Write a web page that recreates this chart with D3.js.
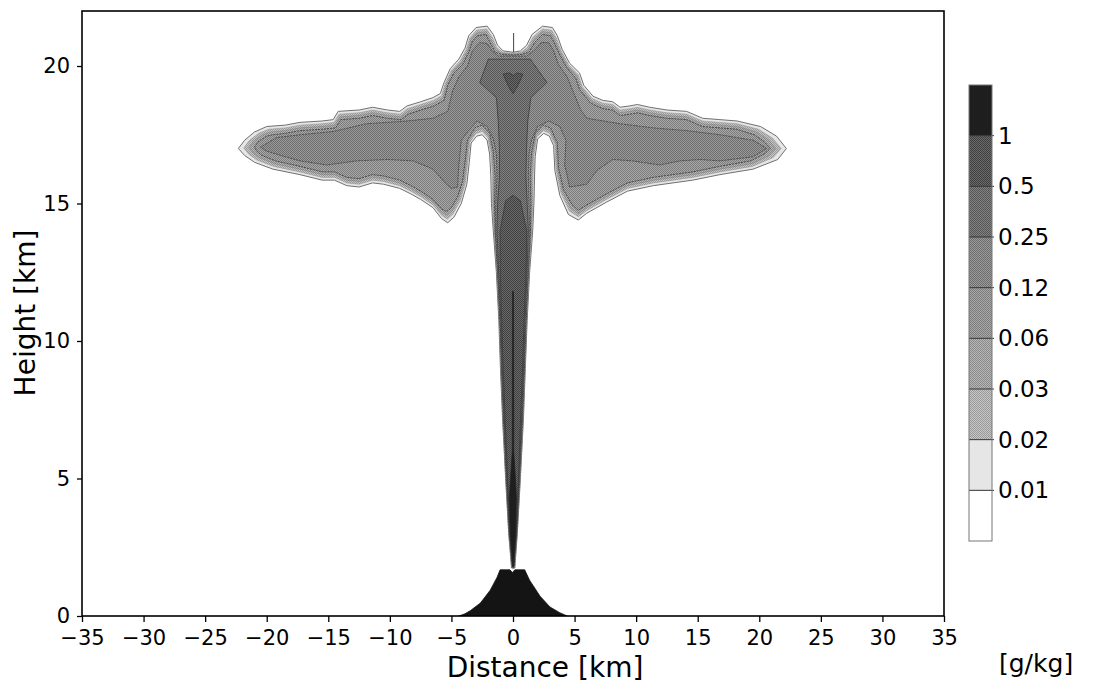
<!DOCTYPE html>
<html>
<head>
<meta charset="utf-8">
<script src="https://cdn.jsdelivr.net/npm/d3@7"></script>
<style>
  html, body { margin: 0; padding: 0; background: #fff; }
  svg { display: block; font-family: "DejaVu Sans", sans-serif; }
</style>
</head>
<body>
<svg id="chart" width="1102" height="685"></svg>
<script>
// Mixing ratio contour levels [g/kg]
const levels = [0.01, 0.02, 0.03, 0.06, 0.12, 0.25, 0.5, 1];
const levelLabels = ["0.01", "0.02", "0.03", "0.06", "0.12", "0.25", "0.5", "1"];
// Grey of each band: below 0.01, then above each level in turn
const bandFills = ["#ffffff", "#e6e6e6", "#b0b0b0", "#a0a0a0", "#929292", "#848484", "#6c6c6c", "#555555", "#1e1e1e"];

const xTicks = [-35, -30, -25, -20, -15, -10, -5, 0, 5, 10, 15, 20, 25, 30, 35];
const yTicks = [0, 5, 10, 15, 20];

// Outlines of the regions at or above each level, [distance km, height km]
const c001 = [[-0.12,1.75],[-0.35,3],[-0.6,5],[-0.85,7.2],[-1.02,9],[-1.15,10.75],[-1.35,12.5],[-1.6,14],[-1.75,15],[-1.8,16],[-1.9,16.8],[-2.1,17.3],[-2.5,17.5],[-2.95,17.45],[-3.4,17.2],[-3.55,16.5],[-3.75,15.7],[-4.2,15.0],[-4.8,14.5],[-5.3,14.3],[-5.8,14.45],[-6.5,14.85],[-7.5,15.15],[-8.3,15.35],[-9.2,15.55],[-10.5,15.7],[-11.4,15.75],[-12.5,15.6],[-13.5,15.65],[-14.5,15.85],[-15.5,15.85],[-17.3,16.05],[-19.5,16.25],[-21.0,16.5],[-21.8,16.75],[-22.3,17.0],[-21.8,17.3],[-21.0,17.6],[-20.0,17.8],[-18.5,17.85],[-17.3,17.95],[-15.5,18.0],[-14.6,18.05],[-14.2,18.35],[-12.5,18.4],[-11.4,18.5],[-10.2,18.4],[-9.2,18.35],[-8.6,18.55],[-7.5,18.7],[-6.5,18.85],[-5.9,19.0],[-5.6,19.4],[-5.1,19.9],[-4.4,20.25],[-3.9,20.65],[-3.6,21.1],[-3.0,21.4],[-2.1,21.45],[-1.6,21.15],[-1.25,20.75],[-0.8,20.55],[0,20.5],[0.6,20.55],[1.1,20.75],[1.55,21.15],[2.4,21.45],[3.2,21.4],[3.6,21.1],[4.0,20.6],[4.6,20.1],[5.4,19.75],[5.75,19.3],[6.5,18.9],[7.3,18.75],[8.1,18.7],[8.7,18.5],[9.5,18.55],[10.1,18.6],[11.1,18.5],[12.5,18.4],[14.1,18.35],[15.4,18.1],[16.8,18.05],[18.2,18.0],[20.1,17.8],[21.4,17.45],[22.2,17.0],[21.5,16.6],[19.5,16.25],[16.8,16.05],[14.6,15.85],[13.0,15.75],[11.4,15.65],[9.3,15.45],[7.6,15.05],[6.0,14.65],[5.3,14.4],[4.5,14.6],[3.8,15.3],[3.4,16.2],[3.3,17.1],[2.95,17.45],[2.5,17.55],[2.0,17.35],[1.8,16.7],[1.75,16.0],[1.7,15.0],[1.6,14],[1.35,12.5],[1.15,10.75],[1.0,9],[0.85,7.2],[0.6,5],[0.35,3],[0.15,1.75]];

const c002 = [[-0.1,1.75],[-0.33,3],[-0.58,5],[-0.83,7.2],[-0.99,9],[-1.12,10.75],[-1.32,12.5],[-1.55,14],[-1.67,15],[-1.68,16],[-1.8,16.83],[-2.03,17.38],[-2.5,17.62],[-3.0,17.55],[-3.5,17.23],[-3.67,16.5],[-3.87,15.73],[-4.3,15.08],[-4.87,14.62],[-5.33,14.43],[-5.8,14.57],[-6.5,14.95],[-7.5,15.25],[-8.3,15.45],[-9.2,15.65],[-10.5,15.8],[-11.4,15.85],[-12.5,15.7],[-13.5,15.75],[-14.5,15.95],[-15.5,15.95],[-17.3,16.15],[-19.43,16.35],[-20.8,16.58],[-21.47,16.8],[-21.87,17.02],[-21.43,17.28],[-20.67,17.55],[-19.83,17.7],[-18.5,17.75],[-17.3,17.85],[-15.5,17.9],[-14.53,17.95],[-14.13,18.25],[-12.5,18.3],[-11.4,18.4],[-10.2,18.3],[-9.17,18.25],[-8.57,18.45],[-7.5,18.6],[-6.47,18.75],[-5.8,18.92],[-5.5,19.37],[-5.0,19.85],[-4.3,20.18],[-3.8,20.6],[-3.5,21.03],[-2.97,21.3],[-2.13,21.35],[-1.68,21.05],[-1.32,20.67],[-0.83,20.5],[0,20.46],[0.63,20.5],[1.17,20.67],[1.62,21.05],[2.4,21.35],[3.15,21.3],[3.52,21.02],[3.92,20.55],[4.52,20.05],[5.3,19.68],[5.63,19.25],[6.43,18.82],[7.3,18.65],[8.1,18.6],[8.7,18.4],[9.5,18.45],[10.1,18.5],[11.1,18.4],[12.5,18.3],[14.1,18.25],[15.4,18.0],[16.8,17.95],[18.2,17.9],[19.93,17.7],[21.07,17.38],[21.77,17.0],[21.13,16.67],[19.43,16.35],[16.8,16.15],[14.6,15.95],[13.0,15.85],[11.4,15.75],[9.3,15.55],[7.6,15.15],[6.0,14.75],[5.3,14.52],[4.6,14.72],[3.9,15.37],[3.5,16.23],[3.4,17.13],[2.98,17.55],[2.48,17.65],[1.93,17.42],[1.7,16.73],[1.63,16],[1.62,15],[1.54,14],[1.32,12.5],[1.12,10.75],[0.98,9],[0.83,7.2],[0.58,5],[0.33,3],[0.13,1.75]];

const c003 = [[-0.08,1.75],[-0.32,3],[-0.56,5],[-0.8,7.2],[-0.97,9],[-1.1,10.75],[-1.29,12.5],[-1.5,14],[-1.58,15],[-1.57,16],[-1.7,16.87],[-1.97,17.47],[-2.5,17.73],[-3.05,17.65],[-3.6,17.27],[-3.78,16.5],[-3.98,15.77],[-4.4,15.17],[-4.93,14.73],[-5.37,14.57],[-5.8,14.68],[-6.5,15.05],[-7.5,15.35],[-8.3,15.55],[-9.2,15.75],[-10.5,15.9],[-11.4,15.95],[-12.5,15.8],[-13.5,15.85],[-14.5,16.05],[-15.5,16.05],[-17.3,16.25],[-19.37,16.45],[-20.6,16.67],[-21.13,16.85],[-21.43,17.03],[-21.07,17.27],[-20.33,17.5],[-19.67,17.6],[-18.5,17.65],[-17.3,17.75],[-15.5,17.8],[-14.47,17.85],[-14.07,18.15],[-12.5,18.2],[-11.4,18.3],[-10.2,18.2],[-9.13,18.15],[-8.53,18.35],[-7.5,18.5],[-6.43,18.65],[-5.7,18.83],[-5.4,19.33],[-4.9,19.8],[-4.2,20.12],[-3.7,20.55],[-3.4,20.97],[-2.93,21.2],[-2.17,21.25],[-1.77,20.95],[-1.38,20.58],[-0.87,20.46],[0,20.43],[0.67,20.46],[1.23,20.58],[1.68,20.95],[2.4,21.25],[3.1,21.2],[3.43,20.93],[3.83,20.5],[4.43,20.0],[5.2,19.62],[5.52,19.2],[6.37,18.73],[7.3,18.55],[8.1,18.5],[8.7,18.3],[9.5,18.35],[10.1,18.4],[11.1,18.3],[12.5,18.2],[14.1,18.15],[15.4,17.9],[16.8,17.85],[18.2,17.8],[19.77,17.6],[20.73,17.32],[21.33,17.0],[20.77,16.73],[19.37,16.45],[16.8,16.25],[14.6,16.05],[13.0,15.95],[11.4,15.85],[9.3,15.65],[7.6,15.25],[6.0,14.85],[5.3,14.63],[4.7,14.83],[4.0,15.43],[3.6,16.27],[3.5,17.17],[3.02,17.65],[2.47,17.75],[1.87,17.48],[1.6,16.77],[1.52,16],[1.53,15],[1.48,14],[1.28,12.5],[1.1,10.75],[0.95,9],[0.8,7.2],[0.56,5],[0.32,3],[0.1,1.75]];

const c006 = [[-0.06,1.75],[-0.3,3],[-0.54,5],[-0.78,7.2],[-0.94,9],[-1.07,10.75],[-1.26,12.5],[-1.45,14],[-1.5,15],[-1.45,16],[-1.6,16.9],[-1.9,17.55],[-2.5,17.85],[-3.1,17.75],[-3.7,17.3],[-3.9,16.5],[-4.1,15.8],[-4.5,15.25],[-5.0,14.85],[-5.4,14.7],[-5.8,14.8],[-6.5,15.15],[-7.5,15.45],[-8.3,15.65],[-9.2,15.85],[-10.5,16.0],[-11.4,16.05],[-12.5,15.9],[-13.5,15.95],[-14.5,16.15],[-15.5,16.15],[-17.3,16.35],[-19.3,16.55],[-20.4,16.75],[-20.8,16.9],[-21.0,17.05],[-20.7,17.25],[-20.0,17.45],[-19.5,17.5],[-18.5,17.55],[-17.3,17.65],[-15.5,17.7],[-14.4,17.75],[-14.0,18.05],[-12.5,18.1],[-11.4,18.2],[-10.2,18.1],[-9.1,18.05],[-8.5,18.25],[-7.5,18.4],[-6.4,18.55],[-5.6,18.75],[-5.3,19.3],[-4.8,19.75],[-4.1,20.05],[-3.6,20.5],[-3.3,20.9],[-2.9,21.1],[-2.2,21.15],[-1.85,20.85],[-1.45,20.5],[-0.9,20.42],[0,20.4],[0.7,20.42],[1.3,20.5],[1.75,20.85],[2.4,21.15],[3.05,21.1],[3.35,20.85],[3.75,20.45],[4.35,19.95],[5.1,19.55],[5.4,19.15],[6.3,18.65],[7.3,18.45],[8.1,18.4],[8.7,18.2],[9.5,18.25],[10.1,18.3],[11.1,18.2],[12.5,18.1],[14.1,18.05],[15.4,17.8],[16.8,17.75],[18.2,17.7],[19.6,17.5],[20.4,17.25],[20.9,17.0],[20.4,16.8],[19.3,16.55],[16.8,16.35],[14.6,16.15],[13.0,16.05],[11.4,15.95],[9.3,15.75],[7.6,15.35],[6.0,14.95],[5.3,14.75],[4.8,14.95],[4.1,15.5],[3.7,16.3],[3.6,17.2],[3.05,17.75],[2.45,17.85],[1.8,17.55],[1.5,16.8],[1.4,16.0],[1.45,15.0],[1.42,14],[1.25,12.5],[1.07,10.75],[0.93,9],[0.78,7.2],[0.54,5],[0.3,3],[0.08,1.75]];

const c012 = [[-0.04,1.8],[-0.28,3],[-0.51,5],[-0.75,7.2],[-0.91,9],[-1.04,10.75],[-1.22,12.5],[-1.4,14],[-1.4,15],[-1.3,16],[-1.35,16.8],[-1.6,17.35],[-2.1,17.8],[-2.9,18.0],[-3.6,17.65],[-4.2,17.3],[-4.4,16.4],[-4.5,15.6],[-5.0,15.55],[-5.4,15.7],[-6.5,16.25],[-8.1,16.55],[-10.2,16.6],[-12.7,16.55],[-15.1,16.4],[-17.3,16.55],[-18.5,16.7],[-20.0,16.9],[-20.5,17.05],[-19.2,17.4],[-17.3,17.5],[-14.6,17.62],[-11.9,17.9],[-8.6,18.0],[-6.5,18.1],[-5.3,18.35],[-4.9,19.1],[-4.4,19.6],[-3.7,20.0],[-3.3,20.55],[-2.7,20.85],[-2.1,20.82],[-1.7,20.55],[-1.2,20.36],[0,20.36],[1.1,20.36],[1.7,20.55],[2.3,20.85],[2.9,20.85],[3.3,20.55],[3.7,20.05],[4.4,19.6],[4.9,19.05],[5.5,18.4],[6.0,18.1],[8.7,17.9],[11.4,17.75],[14.1,17.65],[16.8,17.5],[19.5,17.3],[20.6,17.0],[19.5,16.7],[16.8,16.55],[15.2,16.6],[13.6,16.55],[11.9,16.4],[9.7,16.55],[8.1,16.6],[6.8,16.2],[6.0,15.7],[4.6,15.6],[4.2,16.4],[4.3,17.3],[3.8,17.8],[2.9,18.0],[2.0,17.8],[1.5,17.3],[1.3,16.8],[1.25,16.0],[1.3,15.0],[1.36,14],[1.22,12.5],[1.04,10.75],[0.9,9],[0.75,7.2],[0.51,5],[0.28,3],[0.06,1.8]];

const c025 = [[-0.03,1.8],[-0.26,3],[-0.48,5],[-0.71,7.2],[-0.87,9],[-0.99,10.75],[-1.16,12.5],[-1.3,14],[-1.25,15],[-1.1,16],[-1.1,17],[-1.2,18.0],[-1.35,18.85],[-2.7,19.4],[-2.0,20.25],[1.4,20.25],[2.75,19.4],[1.45,18.85],[1.2,18.0],[1.1,17],[1.05,16],[1.15,15],[1.25,14],[1.14,12.5],[0.98,10.75],[0.85,9],[0.7,7.2],[0.48,5],[0.26,3],[0.05,1.8]];

const c050Column = [[-0.02,1.8],[-0.24,3],[-0.44,5],[-0.64,7.2],[-0.8,9],[-0.92,10.75],[-1.04,12.5],[-1.05,14],[-0.6,15.1],[0,15.3],[0.6,15.1],[1.12,14],[1.06,12.5],[0.9,10.75],[0.78,9],[0.62,7.2],[0.44,5],[0.24,3],[0.04,1.8]];
const c050Cap = [[-0.8,19.7],[-0.3,19.75],[0,19.65],[0.3,19.75],[0.8,19.7],[0.35,19.25],[0,19.0],[-0.35,19.25]];

const c100 = [[-0.02,1.8],[-0.22,3],[-0.3,4.3],[-0.2,5],[-0.06,6],[-0.04,11.8],[0.04,11.8],[0.06,6],[0.2,5],[0.28,4.3],[0.22,3],[0.04,1.8]];

// Volcano cone (terrain)
const terrain = [[-4.4,0],[-3.9,0.08],[-3.45,0.2],[-2.65,0.47],[-1.85,0.94],[-1.3,1.4],[-1.05,1.68],[-0.25,1.68],[-0.05,1.58],[0.15,1.68],[0.95,1.68],[1.35,1.3],[2.2,0.72],[3.0,0.33],[3.8,0.12],[4.4,0]];

// Thin contour spur above the plume top
const spur = [[0.05,20.5],[0.05,21.2]];

// Regions per level, lowest first
const levelRegions = [[c001], [c002], [c003], [c006], [c012], [c025], [c050Column, c050Cap], [c100]];
// Contour line style per level
const lineColors = ["#707070", "#8c8c8c", "#7a7a7a", "#3a3a3a", "#3a3a3a", "#333333", "#333333", "#222222"];
const lineWidths = [1, 0.5, 0.5, 0.9, 0.8, 0.7, 0.7, 0.7];
const lineDashes = [null, null, null, "2,1", "2,1", null, null, null];

const svg = d3.select("#chart");
const plot = { left: 82, right: 944, top: 11, bottom: 616 };

const x = d3.scaleLinear().domain([-35, 35]).range([plot.left, plot.right]);
const y = d3.scaleLinear().domain([0, 22]).range([plot.bottom, plot.top]);

// Halftone textures for the mid greys
const defs = svg.append("defs");
function toneFill(i) {
  if (i < 2 || i === bandFills.length - 1) return bandFills[i];
  return `url(#tone${i})`;
}
bandFills.forEach((c, i) => {
  if (i < 2 || i === bandFills.length - 1) return;
  const base = d3.rgb(c);
  const lo = d3.rgb(base.r - 22, base.g - 22, base.b - 22);
  const hi = d3.rgb(base.r + 22, base.g + 22, base.b + 22);
  const p = defs.append("pattern").attr("id", "tone" + i)
    .attr("patternUnits", "userSpaceOnUse").attr("width", 2).attr("height", 2);
  p.append("rect").attr("width", 2).attr("height", 2).attr("fill", hi);
  p.append("rect").attr("width", 1).attr("height", 1).attr("fill", lo);
  p.append("rect").attr("x", 1).attr("y", 1).attr("width", 1).attr("height", 1).attr("fill", lo);
});

defs.append("clipPath").attr("id", "plotClip")
  .append("rect")
  .attr("x", plot.left).attr("y", plot.top)
  .attr("width", plot.right - plot.left).attr("height", plot.bottom - plot.top);

const area = svg.append("g").attr("clip-path", "url(#plotClip)");

const ring = d3.line().x(d => x(d[0])).y(d => y(d[1])).curve(d3.curveLinearClosed);

levelRegions.forEach((polys, li) => {
  area.append("g")
    .selectAll("path")
    .data(polys)
    .join("path")
    .attr("d", ring)
    .attr("fill", toneFill(li + 1))
    .attr("stroke", lineColors[li])
    .attr("stroke-width", lineWidths[li])
    .attr("stroke-dasharray", lineDashes[li])
    .attr("stroke-linejoin", "round");
});

area.append("path")
  .datum(terrain)
  .attr("d", ring)
  .attr("fill", "#141414")
  .attr("stroke", "#141414")
  .attr("stroke-width", 0.8);

area.append("path")
  .datum(spur)
  .attr("d", d3.line().x(d => x(d[0])).y(d => y(d[1])))
  .attr("fill", "none")
  .attr("stroke", "#444")
  .attr("stroke-width", 1);

// Axes
const xAxis = d3.axisBottom(x).tickValues(xTicks).tickSize(6).tickPadding(8).tickSizeOuter(0);
const yAxis = d3.axisLeft(y).tickValues(yTicks).tickSize(5).tickPadding(7).tickSizeOuter(0);

const gx = svg.append("g").attr("transform", `translate(0,${plot.bottom})`).call(xAxis);
const gy = svg.append("g").attr("transform", `translate(${plot.left},0)`).call(yAxis);
[gx, gy].forEach(g => {
  g.select(".domain").remove();
  g.selectAll(".tick line").attr("stroke", "#000").attr("stroke-width", 1.3);
  g.selectAll(".tick text").attr("fill", "#000").style("font-size", "21px")
    .style("font-family", "'DejaVu Sans', sans-serif");
});

svg.append("rect")
  .attr("x", plot.left).attr("y", plot.top)
  .attr("width", plot.right - plot.left).attr("height", plot.bottom - plot.top)
  .attr("fill", "none").attr("stroke", "#000").attr("stroke-width", 1.6);

svg.append("text")
  .attr("x", 545).attr("y", 677)
  .attr("text-anchor", "middle")
  .style("font-size", "28px")
  .text("Distance [km]");

svg.append("text")
  .attr("transform", "translate(35,313) rotate(-90)")
  .attr("text-anchor", "middle")
  .style("font-size", "28px")
  .text("Height [km]");

// Colour bar
const bar = { x: 969, w: 23, top: 85, bottom: 541 };
const cb = d3.scaleLinear().domain([0, bandFills.length]).range([bar.bottom, bar.top]);
const gcb = svg.append("g");
gcb.selectAll("rect.band")
  .data(bandFills)
  .join("rect")
  .attr("class", "band")
  .attr("x", bar.x)
  .attr("y", (d, i) => cb(i + 1))
  .attr("width", bar.w)
  .attr("height", (d, i) => cb(i) - cb(i + 1))
  .attr("fill", (d, i) => toneFill(i));

gcb.selectAll("line.sep")
  .data(levels)
  .join("line")
  .attr("class", "sep")
  .attr("x1", bar.x).attr("x2", bar.x + bar.w + 2)
  .attr("y1", (d, i) => cb(i + 1)).attr("y2", (d, i) => cb(i + 1))
  .attr("stroke", "#333").attr("stroke-width", 1);

gcb.append("rect")
  .attr("x", bar.x).attr("y", bar.top)
  .attr("width", bar.w).attr("height", bar.bottom - bar.top)
  .attr("fill", "none").attr("stroke", "#777").attr("stroke-width", 1);

const cbAxis = d3.axisRight(cb)
  .tickValues(levels.map((d, i) => i + 1))
  .tickFormat(i => levelLabels[i - 1])
  .tickSize(0).tickPadding(6);
const gcbAxis = svg.append("g").attr("transform", `translate(${bar.x + bar.w},0)`).call(cbAxis);
gcbAxis.select(".domain").remove();
gcbAxis.selectAll(".tick text").attr("fill", "#000").style("font-size", "23px")
  .style("font-family", "'DejaVu Sans', sans-serif");

svg.append("text")
  .attr("x", 999).attr("y", 672)
  .style("font-size", "25px")
  .text("[g/kg]");
</script>
</body>
</html>
